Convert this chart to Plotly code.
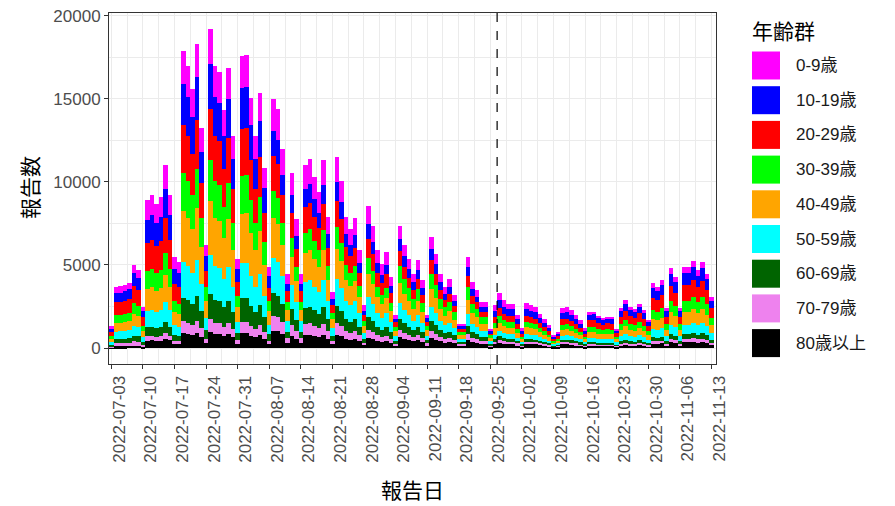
import plotly.graph_objects as go
import pandas as pd

# ---------------- data ----------------
START_DATE = "2022-07-03"

AGE_GROUPS = ["0-9歳", "10-19歳", "20-29歳", "30-39歳", "40-49歳",
              "50-59歳", "60-69歳", "70-79歳", "80歳以上"]

age_0_9 = [130, 370, 370, 380, 390, 500, 470, 250,
           1150, 1190, 1120, 1180, 1430, 1190, 710, 670,
           1970, 1870, 1720, 2010, 1460, 680, 2110, 1870, 1830, 1580, 1850, 1410, 590, 1940, 1940, 1660, 1410, 1690, 1190, 530,
           1950, 1870, 1550, 580, 1370, 1010, 580, 1430, 1480, 1330, 1220, 1470, 1020, 440, 1500, 1310, 1030, 930, 1020, 770, 340, 1120, 960, 760, 660, 750, 550, 260,
           810, 680, 590, 490, 580, 450, 220, 730, 620, 490, 400, 460, 350, 160, 160, 600, 440, 380, 300, 300, 130,
           340, 430, 370, 350, 350, 260, 160, 350, 340, 320, 270, 230, 180, 100, 120, 310, 320, 300, 260, 220, 160,
           150, 150, 130, 130, 130, 130, 80, 170, 200, 170, 160, 190, 160, 120, 270, 260, 290, 170, 340, 300, 170, 340, 340, 370, 330, 360, 310, 210]

age_10_19 = [200, 550, 560, 570, 590, 750, 700, 370,
             1420, 1470, 1380, 1450, 1760, 1470, 870, 830,
             2500, 2380, 2180, 2560, 1860, 870, 2690, 2380, 2320, 2010, 2360, 1790, 750, 2460, 2470, 2110, 1790, 2150, 1520, 680,
             1500, 1440, 1200, 450, 1060, 780, 450, 1100, 1140, 1030, 940, 1130, 790, 340, 1150, 1010, 790, 720, 780, 590, 260, 860, 740, 590, 510, 580, 430, 200,
             740, 620, 540, 450, 530, 410, 200, 670, 570, 450, 370, 420, 320, 150, 150, 550, 400, 350, 280, 280, 110,
             390, 500, 430, 400, 400, 300, 180, 400, 390, 370, 310, 260, 210, 120, 140, 360, 370, 340, 300, 250, 180,
             320, 330, 290, 270, 280, 280, 170, 360, 430, 370, 350, 400, 340, 250, 580, 550, 610, 360, 720, 640, 360, 730, 730, 780, 700, 770, 670, 460]

age_20_29 = [270, 770, 780, 800, 820, 1050, 980, 520,
             1690, 1740, 1640, 1720, 2090, 1740, 1040, 980,
             2860, 2720, 2500, 2930, 2120, 990, 3070, 2720, 2660, 2290, 2700, 2040, 850, 2820, 2830, 2410, 2040, 2460, 1740, 780,
             2100, 2010, 1670, 620, 1480, 1090, 620, 1540, 1590, 1440, 1310, 1580, 1100, 470, 1610, 1410, 1110, 1000, 1090, 830, 360, 1200, 1030, 820, 710, 810, 600, 280,
             890, 740, 640, 540, 630, 490, 240, 800, 680, 540, 440, 500, 380, 180, 180, 660, 480, 420, 330, 330, 140,
             360, 460, 400, 370, 370, 280, 170, 380, 360, 340, 290, 250, 190, 110, 130, 340, 340, 320, 280, 240, 170,
             410, 420, 360, 340, 360, 350, 220, 460, 550, 470, 440, 510, 430, 320, 740, 700, 780, 460, 910, 810, 460, 920, 920, 990, 890, 980, 850, 580]

age_30_39 = [170, 480, 480, 490, 510, 650, 610, 320,
             1070, 1100, 1040, 1090, 1320, 1100, 660, 620,
             2320, 2210, 2030, 2380, 1720, 810, 2500, 2210, 2160, 1860, 2190, 1660, 690, 2290, 2300, 1960, 1660, 2000, 1410, 630,
             1650, 1580, 1320, 490, 1160, 850, 490, 1210, 1250, 1130, 1030, 1240, 860, 370, 1270, 1110, 870, 790, 860, 650, 280, 940, 810, 650, 560, 630, 470, 220,
             1030, 870, 750, 620, 740, 570, 280, 930, 790, 620, 510, 580, 450, 200, 200, 760, 550, 490, 390, 390, 160,
             310, 400, 350, 320, 320, 240, 140, 320, 310, 300, 250, 210, 170, 90, 120, 290, 300, 270, 240, 200, 140,
             300, 310, 270, 250, 270, 260, 160, 340, 400, 340, 330, 370, 320, 240, 550, 510, 570, 340, 670, 600, 340, 680, 680, 730, 660, 720, 620, 430]

age_40_49 = [180, 510, 520, 530, 550, 700, 660, 340,
             1330, 1380, 1300, 1360, 1650, 1380, 820, 770,
             3040, 2890, 2650, 3110, 2250, 1050, 3260, 2890, 2820, 2440, 2870, 2170, 910, 2990, 3000, 2560, 2170, 2610, 1850, 830,
             2400, 2300, 1910, 710, 1690, 1240, 710, 1760, 1820, 1640, 1500, 1800, 1260, 540, 1840, 1610, 1260, 1150, 1250, 940, 410, 1370, 1180, 940, 810, 920, 680, 320,
             1180, 990, 860, 710, 840, 650, 320, 1070, 910, 710, 590, 670, 510, 230, 230, 870, 630, 560, 440, 440, 180,
             390, 500, 430, 400, 400, 300, 180, 400, 390, 370, 310, 260, 210, 120, 140, 360, 370, 340, 300, 250, 180,
             350, 350, 310, 290, 300, 300, 190, 380, 460, 390, 370, 430, 360, 270, 620, 590, 650, 380, 770, 680, 380, 780, 780, 840, 750, 830, 710, 490]

age_50_59 = [160, 440, 440, 460, 470, 600, 560, 300,
             980, 1010, 950, 1000, 1210, 1010, 600, 570,
             2150, 2040, 1870, 2200, 1590, 740, 2300, 2040, 1990, 1720, 2020, 1530, 640, 2110, 2120, 1810, 1530, 1840, 1300, 580,
             2100, 2010, 1670, 620, 1480, 1090, 620, 1540, 1590, 1440, 1310, 1580, 1100, 470, 1610, 1410, 1110, 1000, 1090, 830, 360, 1200, 1030, 820, 710, 810, 600, 280,
             960, 800, 700, 580, 690, 530, 260, 870, 740, 580, 480, 540, 410, 190, 190, 710, 510, 450, 360, 360, 150,
             260, 330, 290, 270, 270, 200, 120, 270, 260, 250, 210, 180, 140, 80, 100, 240, 250, 230, 200, 170, 120,
             260, 260, 230, 220, 230, 220, 140, 290, 350, 300, 280, 320, 270, 200, 470, 440, 490, 290, 580, 510, 290, 580, 580, 630, 560, 620, 540, 370]

age_60_69 = [90, 260, 260, 270, 270, 350, 330, 170,
             530, 550, 520, 540, 660, 550, 330, 310,
             1430, 1360, 1250, 1460, 1060, 500, 1540, 1360, 1330, 1150, 1350, 1020, 430, 1410, 1410, 1200, 1020, 1230, 870, 390,
             1350, 1290, 1080, 400, 950, 700, 400, 990, 1020, 920, 840, 1020, 710, 300, 1040, 910, 710, 640, 700, 530, 230, 770, 660, 530, 460, 520, 380, 180,
             660, 560, 480, 400, 480, 370, 180, 600, 510, 400, 330, 370, 290, 130, 130, 490, 360, 310, 250, 250, 100,
             180, 230, 200, 190, 190, 140, 80, 190, 180, 170, 140, 120, 100, 50, 70, 170, 170, 160, 140, 120, 80,
             130, 130, 120, 110, 110, 110, 70, 140, 170, 150, 140, 160, 140, 100, 230, 220, 240, 140, 290, 260, 140, 290, 290, 310, 280, 310, 270, 180]

age_70_79 = [60, 180, 190, 190, 200, 250, 230, 120,
             270, 280, 260, 270, 330, 280, 160, 150,
             720, 680, 620, 730, 530, 250, 770, 680, 660, 570, 670, 510, 210, 700, 710, 600, 510, 610, 430, 190,
             900, 860, 720, 270, 630, 470, 270, 660, 680, 620, 560, 680, 470, 200, 690, 600, 470, 430, 470, 350, 150, 510, 440, 350, 300, 350, 260, 120,
             440, 370, 320, 270, 320, 240, 120, 400, 340, 270, 220, 250, 190, 90, 90, 330, 240, 210, 170, 170, 70,
             130, 170, 140, 130, 130, 100, 60, 140, 130, 120, 100, 90, 70, 40, 50, 120, 120, 110, 100, 80, 60,
             90, 90, 80, 70, 80, 70, 50, 100, 120, 100, 90, 110, 90, 70, 160, 150, 160, 100, 190, 170, 100, 190, 190, 210, 190, 210, 180, 120]

age_80_plus = [40, 110, 110, 110, 120, 150, 140, 70,
               440, 460, 430, 450, 550, 460, 270, 260,
               890, 850, 780, 920, 660, 310, 960, 850, 830, 720, 840, 640, 270, 880, 880, 750, 640, 770, 540, 240,
               1050, 1010, 840, 310, 740, 540, 310, 770, 800, 720, 660, 790, 550, 240, 810, 710, 550, 500, 550, 410, 180, 600, 520, 410, 350, 400, 300, 140,
               660, 560, 480, 400, 480, 370, 180, 600, 510, 400, 330, 370, 290, 130, 130, 490, 360, 310, 250, 250, 100,
               230, 300, 260, 240, 240, 180, 110, 240, 230, 220, 190, 160, 120, 70, 90, 220, 220, 210, 180, 150, 110,
               150, 150, 130, 130, 130, 130, 80, 170, 200, 170, 160, 190, 160, 120, 270, 260, 290, 170, 340, 300, 170, 340, 340, 370, 330, 360, 310, 210]

X_TICKS = ["2022-07-03", "2022-07-10", "2022-07-17", "2022-07-24", "2022-07-31",
           "2022-08-07", "2022-08-14", "2022-08-21", "2022-08-28", "2022-09-04",
           "2022-09-11", "2022-09-18", "2022-09-25", "2022-10-02", "2022-10-09",
           "2022-10-16", "2022-10-23", "2022-10-30", "2022-11-06", "2022-11-13"]
Y_TICKS = [0, 5000, 10000, 15000, 20000]
MARK_DATE = "2022-09-26 12:00"

SERIES = [age_0_9, age_10_19, age_20_29, age_30_39, age_40_49,
          age_50_59, age_60_69, age_70_79, age_80_plus]
COLORS = ["#FF00FF", "#0000FF", "#FF0000", "#00FF00", "#FFA500",
          "#00FFFF", "#006400", "#EE82EE", "#000000"]

n = len(age_0_9)
for s in SERIES:
    assert len(s) == n, (len(s), n)
dates = pd.date_range(START_DATE, periods=n, freq="D")

# ---------------- layout geometry ----------------
# The page body has an 8px default margin, so the figure is drawn
# 8px smaller and all reference pixel positions are shifted by 8px.
OFF = 8
W, H = 895 - OFF, 506 - OFF
PANEL_L, PANEL_R, PANEL_T, PANEL_B = 109, 716, 13, 364   # in window pixels
L, T = PANEL_L - OFF, PANEL_T - OFF
R, B = W - (PANEL_R - OFF), H - (PANEL_B - OFF)
PW, PH = W - L - R, H - T - B


def px(x):
    return (x - OFF - L) / PW


def py(y):
    return (H - B - (y - OFF)) / PH


FONT = "Liberation Sans, Arial, Noto Sans CJK JP, sans-serif"
GRID = "#EBEBEB"

fig = go.Figure()
# stacked from bottom (80+) to top (0-9)
for name, vals, col in reversed(list(zip(AGE_GROUPS, SERIES, COLORS))):
    fig.add_trace(go.Bar(x=dates, y=vals, name=name,
                         marker=dict(color=col, line=dict(width=0)),
                         showlegend=False))

fig.update_layout(
    width=W, height=H,
    margin=dict(l=L, r=R, t=T, b=B, autoexpand=False),
    barmode="stack", bargap=0,
    paper_bgcolor="white", plot_bgcolor="white",
    font=dict(family=FONT, size=17, color="#4D4D4D"),
)

fig.update_xaxes(
    type="date", automargin=False, ticklabeloverflow="allow",
    range=["2022-07-02 12:00", "2022-11-14 00:00"],
    tickmode="array", tickvals=X_TICKS, ticktext=X_TICKS,
    tickangle=-90, ticklabelshift=8,
    ticks="outside", ticklen=4, tickcolor="#333333",
    tickfont=dict(size=17, color="#4D4D4D"),
    showgrid=True, gridcolor=GRID, gridwidth=1.2,
    minor=dict(tick0="2022-06-29 12:00", dtick=302400000,
               showgrid=True, gridcolor=GRID, gridwidth=0.6, ticks=""),
    showline=True, mirror=True, linecolor="#333333", linewidth=1,
    zeroline=False,
)
fig.update_yaxes(
    automargin=False, ticklabeloverflow="allow",
    range=[-960, 20160],
    tickmode="array", tickvals=Y_TICKS, ticktext=[str(v) for v in Y_TICKS],
    ticks="outside", ticklen=4, tickcolor="#333333",
    tickfont=dict(size=17, color="#4D4D4D"),
    showgrid=True, gridcolor=GRID, gridwidth=1.2,
    minor=dict(tick0=0, dtick=2500, showgrid=True,
               gridcolor=GRID, gridwidth=0.6, ticks=""),
    showline=True, mirror=True, linecolor="#333333", linewidth=1,
    zeroline=False,
)

# dashed marker line
fig.add_shape(type="line", xref="x", yref="paper",
              x0=MARK_DATE, x1=MARK_DATE, y0=0, y1=1,
              line=dict(color="black", width=1.2, dash="dash"))

annotations = [
    dict(text="報告日", x=px(412), y=py(490), xref="paper", yref="paper",
         showarrow=False, xanchor="center", yanchor="middle",
         font=dict(size=21, color="black")),
    dict(text="報告数", x=px(30), y=py(188), xref="paper", yref="paper",
         showarrow=False, xanchor="center", yanchor="middle", textangle=-90,
         font=dict(size=21, color="black")),
    dict(text="年齢群", x=px(750), y=py(31), xref="paper", yref="paper",
         showarrow=False, xanchor="left", yanchor="middle",
         font=dict(size=21, color="black")),
]

# manual legend (large square keys like the reference)
KEY_X0, KEY_X1, KEY_H = 752, 780, 28
for i, (name, col) in enumerate(zip(AGE_GROUPS, COLORS)):
    yc = 65.5 + 34.7 * i
    fig.add_shape(type="rect", xref="paper", yref="paper",
                  x0=px(KEY_X0), x1=px(KEY_X1),
                  y0=py(yc + KEY_H / 2), y1=py(yc - KEY_H / 2),
                  fillcolor=col, line=dict(width=0))
    annotations.append(dict(text=name, x=px(794), y=py(yc),
                            xref="paper", yref="paper", showarrow=False,
                            xanchor="left", yanchor="middle",
                            font=dict(size=17, color="#1A1A1A")))

fig.update_layout(annotations=annotations)
fig.write_html(
    "out.html",
    post_script="document.querySelectorAll('.main-svg').forEach("
                "function(s){s.style.overflow='visible';});",
)
